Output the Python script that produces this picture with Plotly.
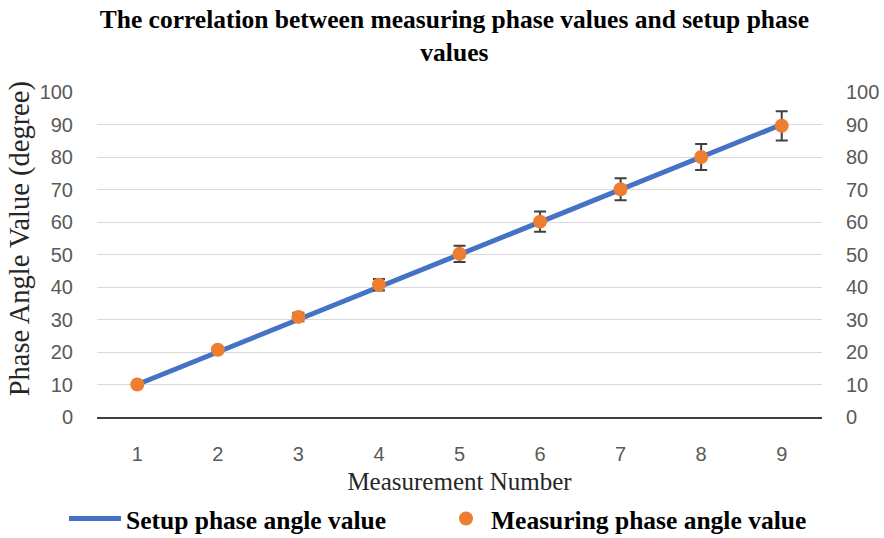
import plotly.graph_objects as go

measurement_numbers = [1, 2, 3, 4, 5, 6, 7, 8, 9]
setup_values = [10, 20, 30, 40, 50, 60, 70, 80, 90]
measured_values = [10.0, 20.7, 30.8, 40.7, 50.2, 60.1, 70.1, 80.0, 89.6]
measured_errors = [0.5, 0.8, 1.3, 1.8, 2.5, 3.1, 3.4, 4.0, 4.5]
y_ticks = [0, 10, 20, 30, 40, 50, 60, 70, 80, 90, 100]

serif = "Liberation Serif, Times New Roman, serif"
tick_font = dict(family="Liberation Sans, Arial", size=20, color="#595959")
legend_font = dict(family=serif, size=25.5, color="black")

fig = go.Figure()
fig.add_trace(go.Scatter(
    x=measurement_numbers, y=setup_values, mode="lines",
    name="<b>Setup phase angle value</b>",
    line=dict(color="#4472C4", width=5), legend="legend",
))
fig.add_trace(go.Scatter(
    x=measurement_numbers, y=measured_values, mode="markers",
    name="<b>Measuring phase angle value</b>",
    marker=dict(color="#ED7D31", size=14), legend="legend2",
    error_y=dict(type="data", array=measured_errors, visible=True,
                 color="#404040", thickness=2, width=6),
))
# mirrored right axis
fig.add_trace(go.Scatter(x=measurement_numbers, y=setup_values, yaxis="y2",
                         mode="lines", line=dict(width=0), showlegend=False,
                         hoverinfo="skip"))

fig.update_layout(
    width=884, height=538,
    margin=dict(l=97, r=62, t=92, b=121),
    paper_bgcolor="white", plot_bgcolor="white",
    title=dict(text="<b>The correlation between measuring phase values and setup phase<br>values</b>",
               x=0.514, xanchor="center", yref="container", y=0.948, yanchor="middle",
               font=dict(family=serif, size=25.5, color="black")),
    xaxis=dict(range=[0.5, 9.5], tickvals=measurement_numbers, tickfont=tick_font,
               showgrid=False, zeroline=False, showline=True, linecolor="#404040",
               linewidth=1.5, ticks="", ticklabelstandoff=18, automargin=False,
               title=dict(text="Measurement Number", standoff=10,
                          font=dict(family=serif, size=25, color="#262626"))),
    yaxis=dict(range=[0, 100], tickvals=y_ticks, tickfont=tick_font,
               showgrid=True, gridcolor="#D9D9D9", gridwidth=1, zeroline=False,
               ticks="", ticklabelstandoff=23, automargin=False),
    yaxis2=dict(range=[0, 100], tickvals=y_ticks, tickfont=tick_font,
                overlaying="y", side="right", showgrid=False, zeroline=False,
                ticks="", ticklabelstandoff=23, automargin=False),
    legend=dict(orientation="h", xref="container", x=64 / 884, xanchor="left",
                yref="container", y=0.079, yanchor="top",
                font=legend_font, itemwidth=52),
    legend2=dict(orientation="h", xref="container", x=441 / 884, xanchor="left",
                 yref="container", y=0.079, yanchor="top",
                 font=legend_font, itemwidth=40),
    showlegend=True,
    annotations=[dict(text="Phase Angle Value (degree)", textangle=-90,
                      xref="paper", yref="paper", x=-0.107, y=0.548,
                      xanchor="center", yanchor="middle", showarrow=False,
                      font=dict(family=serif, size=28.5, color="#262626"))],
)

fig.write_html("out.html")
